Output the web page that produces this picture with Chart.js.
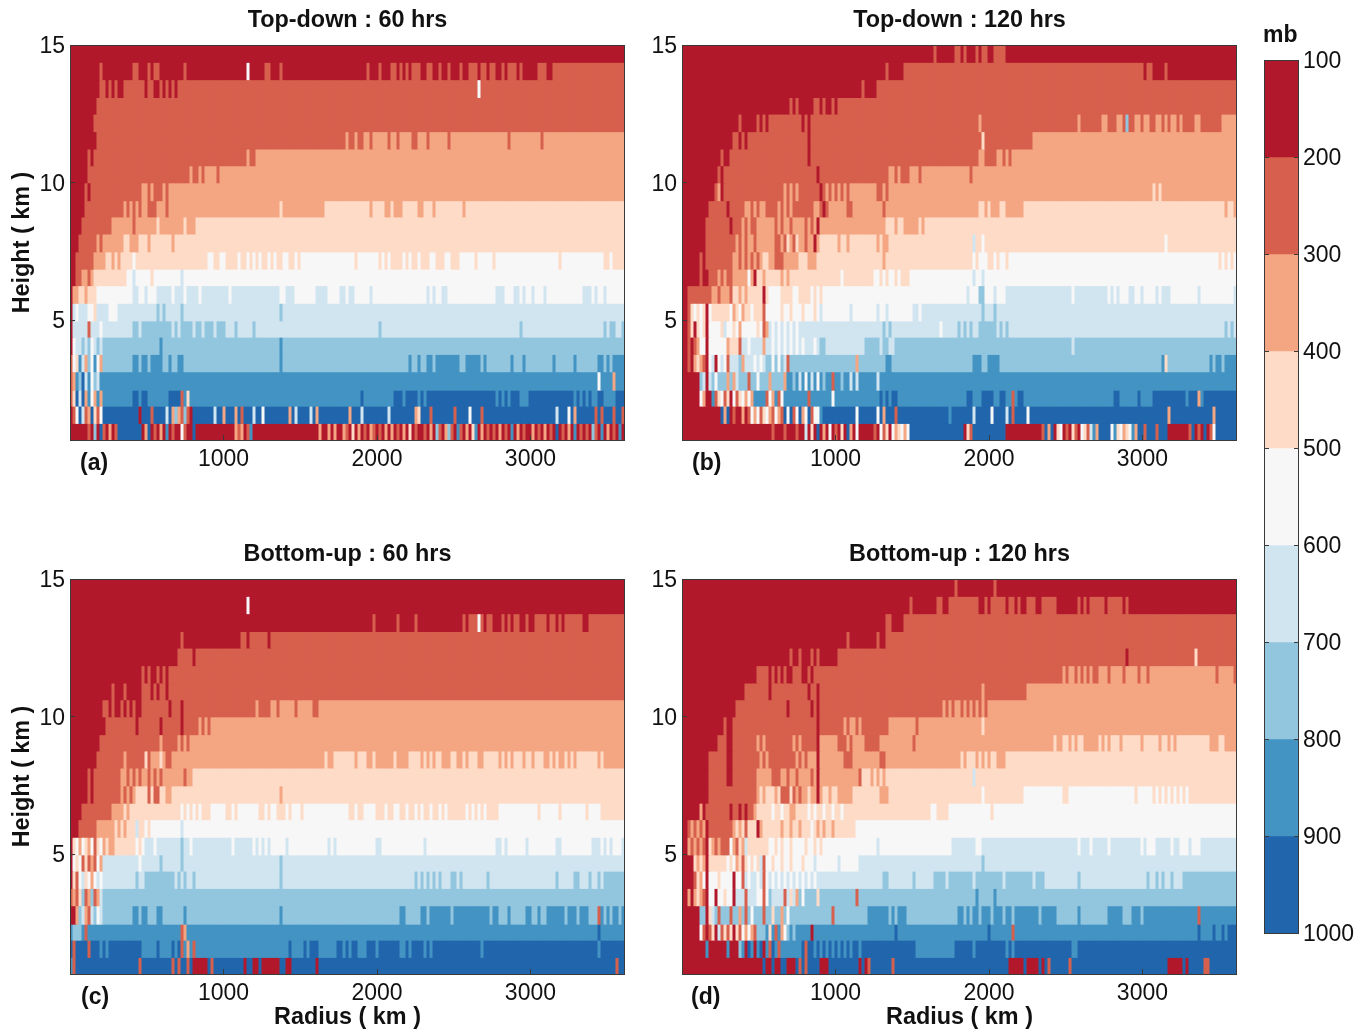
<!DOCTYPE html>
<html>
<head>
<meta charset="utf-8">
<title>Pressure by height and radius</title>
<script src="https://cdn.jsdelivr.net/npm/chart.js@4"></script>
<style>
  html, body { margin: 0; padding: 0; background: #fff; }
  body { position: relative; width: 1366px; height: 1032px; overflow: hidden; font-family: "Liberation Sans", Arial, sans-serif; }
  .slot { position: absolute; }
  .tag { position: absolute; font: bold 23px "Liberation Sans", Arial, sans-serif; line-height: 26px; color: #111; }
</style>
</head>
<body>
<div class="slot" style="left:0;top:0;width:640px;height:498px"><canvas id="panelA"></canvas></div>
<div class="slot" style="left:612px;top:0;width:640px;height:498px"><canvas id="panelB"></canvas></div>
<div class="slot" style="left:0;top:534px;width:640px;height:498px"><canvas id="panelC"></canvas></div>
<div class="slot" style="left:612px;top:534px;width:640px;height:498px"><canvas id="panelD"></canvas></div>
<div class="slot" style="left:1240px;top:0;width:126px;height:1032px"><canvas id="colorBar"></canvas></div>
<div class="tag" style="left:80px;top:449px">(a)</div>
<div class="tag" style="left:692px;top:449px">(b)</div>
<div class="tag" style="left:81px;top:983px">(c)</div>
<div class="tag" style="left:691px;top:983px">(d)</div>
<div class="tag" style="left:1263px;top:21px">mb</div>
<script>
// Pressure band colours, index 1-9 = 100-200 mb ... 900-1000 mb
const bandColors = ['', '#b2182b', '#d6604d', '#f4a582', '#fddbc7', '#f7f7f7', '#d1e5f0', '#92c5de', '#4393c3', '#2166ac'];
const pressureTicks = [100, 200, 300, 400, 500, 600, 700, 800, 900, 1000];
const heightTicks = [5, 10, 15];
const radiusTicks = [1000, 2000, 3000];
const RADIUS_MAX = 3616;
const HEIGHT_MIN = 0.636;
const COLS = 185;

// Edges of the height rows (km), top to bottom
const rowEdges = [15, 14.37, 13.74, 13.09, 12.49, 11.85, 11.22, 10.61, 9.99, 9.34, 8.75, 8.13, 7.48, 6.85, 6.25, 5.61, 4.97, 4.38, 3.75, 3.12, 2.45, 1.87, 1.24, 0.636];

// Each row, top to bottom: base band, then "column:band" or "from-to:band"
const topDown60 = [
  '1',
  '1 10:2 21-22:2 26:2 28-29:2 38:2 59:5 65-66:2 70:2 99:2 103:2 107-108:2 110:2 112:2 114:2 115-116:2 119-120:2 123:2 126:2 130:2 133:2 134-135:2 137-138:2 140-141:2 144:2 146-148:2 150:2 156-158:2 161-163:2 164-184:2',
  '2 0-9:1 12:1 14:1 16-17:1 25:1 28-29:1 31:1 33:1 35:1 136:5',
  '2 0-8:1',
  '2 0-7:1',
  '3 0-8:1 9-91:2 93-94:2 96-97:2 100:2 106:2 109:2 114-115:2 119:2 126:2 146:2 157:2',
  '3 0-5:1 6:2 7:1 8-58:2 60-61:2',
  '3 0-5:1 6-39:2 41-42:2 44:2 49:2',
  '3 0-4:1 5:2 6:1 7:2 8-23:2 26:2 28-30:2 32:2',
  '3 0-4:1 5-17:2 19:2 21:2 23:2 26-28:2 32:2 70:4 85-184:4 100:3 105-106:3 108-110:3 116:3 117:3 121:3 131:3',
  '4 0-3:1 4-13:2 14-41:3 21:2 29:4 38:4',
  '4 0-2:1 3-8:2 9:3 10:2 11-17:3 20-22:3 26:3 34:3',
  '4 0-1:1 2-7:2 8-11:3 14:3 16:3 21:5 46-47:5 50-51:5 56:5 59:5 61:5 63:5 66:5 68:5 71-72:5 75:5 77-184:5 95:4 103:4 105:4 107-108:4 109-110:4 112:4 114:4 115:4 117-118:4 119:4 122-124:4 127:4 128-129:4 135:4 141:4 163:4 178:4 179:4 181-184:4',
  '5 0-1:1 2-3:2 4-5:3 6:2 7:3 8-18:4 21:6 27:4 37:6',
  '5 0:1 1-2:3 3-4:4 5:3 6:4 7-8:4 21-22:6 25:6 29-33:6 35-37:6 39-42:6 44-52:6 54-69:6 72-74:6 82-85:6 90:6 91:6 93-94:6 100:6 119:6 121:6 124-125:6 142-143:6 144:6 148-149:6 151:6 154:6 158:6 171-173:6 175:6 178:6',
  '6 0:1 2:5 6-7:5 8:4 13-15:5 29:7 31:7 37:7 70:7',
  '6 0:1 6:2 10:5 21:7 22:7 24-33:7 35:7 37-40:7 42-43:7 45-47:7 49-51:7 55:7 61:7 103:7 150:7 178:7 180:7 181:7 184:7',
  '7 0:1 1:5 2-3:6 5:6 7:5 8:6 10:6 30:8 70:8',
  '7 0:2 1:5 2:4 3:8 4:6 5:3 6:7 7:5 8:8 9:5 10:3 21-22:8 24-25:8 27-30:8 33:8 36-37:8 70:8 113:8 116:8 119:8 120:8 122-129:8 132-135:8 136:8 138:8 147:8 151:8 161:8 168:8 176-177:8 179:8 181-184:8',
  '8 0:2 1:3 2:8 3:7 4:9 5:6 6:8 7:5 8:7 9:6 10:8 176:5 181:3',
  '8 0:2 1:4 2:9 3:6 4:9 5:3 6:8 7:5 8:3 9:8 10:3 21-22:9 24-25:9 33-36:9 37:2 39:4 97:9 108-110:9 112-115:9 117:9 119-131:9 132-141:9 143:9 145:9 147-149:9 153-155:9 156-167:9 169:9 171:9 173:9 176-177:9 182-184:9',
  '9 0:1 1:2 2:5 3:9 4:6 5:2 6:3 7:9 8:4 9:2 10:5 23:1 27:2 32:6 34:3 35:7 36:3 37:2 38:7 39:2 40:1 48:6 51:3 55:3 57:2 61:6 64:5 73:3 75:6 80:6 82:3 93:3 97:6 106:6 115:3 116:4 120:2 128:2 133:5 137:2 162:6 166:5 168:3 175:2 177:2 181:2 184:2',
  '1 6:2 8:7 10:9 11:2 13:3 15:2 16-23:9 25:3 26:9 28:2 30:3 32:8 34:2 37:5 38:2 41:9 55:3 56:2 57:3 59:2 60:8 83:3 86:3 88:3 91:3 92:2 94:4 96:3 98:2 100:3 101:2 103:2 105:3 107:3 109:2 111:3 113:4 115:2 118:2 120:3 122:7 123:2 125:3 126:7 127:2 129:8 130:2 132:3 134:4 135:8 137:3 139:2 141:2 143:3 145:2 147:8 149:3 151:2 154:3 156:2 158:3 160:2 162:9 164:2 166:3 168:8 170:2 172:2 174:7 175:2 177:8 179:3 181:2 183:8'
];

const topDown120 = [
  '1 84:2 91-92:2 94:2 98:2 100:2 101:2 104-105:2 106-107:2',
  '2 0-73:1 68:2 154:1 157-184:1 161:2',
  '2 0-65:1 60:2 65:2',
  '2 0-51:1 36:2 38:2 44-45:2 47:2 50:2',
  '2 0-24:1 19:2 26:1 28:1 40:1 42:1 99:3 132:3 140-141:3 145-146:3 148:7 151-152:3 154-155:3 158-159:3 161:3 163-164:3 166:3 171-172:3 180-184:3',
  '3 0-21:1 17-18:2 20:2 22-116:2 42:1 100:4',
  '3 0-15:1 13:2 16-98:2 42:1 101-103:2 104:2 107:2 109:2',
  '3 0-11:1 12:2 13:1 14-15:2 16-68:2 45:1 71:2 73-75:2 79:2 96:2',
  '3 0-10:1 11:2 13:1 14:2 15-33:2 35:2 37:2 39-47:2 46:1 49:2 51:2 53:2 55:2 65-66:2 68:2 157:4 159:4',
  '3 0-8:1 9-20:2 15:1 23:2 25:2 28-31:2 33:2 35:2 37-43:2 46:2 47:1 48:2 55-56:2 67:2 99-100:4 102:4 106-107:4 114-184:4 181:3 184:3',
  '4 0-7:1 8-67:3 8-15:2 16:1 17-19:2 21:2 23-24:2 31:2 33:2 36:2 41:2 43:2 45:1 71:3 74-78:3 80:3',
  '4 0-7:1 8-17:2 18:3 19:2 20:3 21:2 22-23:3 24:2 25-30:3 31-32:2 33:3 34:2 36:3 37:2 39-43:3 41:2 44:1 45:3 52:3 55:3 65:3 67-68:3 97:6 100:5 161:5',
  '5 0-5:1 6:2 7:1 8-16:2 17-26:3 19:2 21:2 23:2 25:2 27-28:4 29-30:3 31-33:2 34-38:3 39-41:4 42-44:3 45-108:4 67:3 97:5 99:5 100-101:5 104:5 106-107:5 179:4 181:4 183:4',
  '5 0-5:1 6:2 7-8:1 9-16:2 12:3 14:3 17-21:3 23:3 24:1 25-75:4 27:3 33:3 35:3 53:5 64-65:5 67:5 69-70:5 72:5 97:6 100:6',
  '5 0-1:1 2-9:2 10-11:3 12:2 13-15:3 16:2 17-28:4 19:3 21:3 27:1 33-36:4 39-42:4 44:4 46:4 95:6 99-100:7 104:6 108:6 109-141:6 130:5 143:6 145:6 149-150:6 153:6 158:6 160-162:6 172:6 184:6',
  '6 0-1:1 2:2 3:4 4:5 5:4 6:5 7:4 8:1 9:5 10-15:4 16:5 17:3 18:4 19:5 20:3 21-22:4 23:5 24-26:4 27:2 28-79:5 33:4 36:4 40:4 44:4 46:6 56:6 65:6 68:6 77-78:6 100:7 104:7',
  '6 0-1:1 2:2 3:4 4:1 5:4 6:5 7:4 8:1 9-12:5 13:4 15-16:5 17:4 18:5 19:3 20-24:5 25:4 26:5 27:2 28:3 30:5 32:5 34:5 36:5 38:5 67:7 69:7 86:5 92:7 94:7 96:7 99:7 100-104:7 106:7 108:7 181:7 183:7',
  '7 0-1:1 2:2 3:1 4:2 5:3 6:5 7:5 8:1 9-14:5 15:3 16-18:4 19:2 20-26:6 22:5 27:3 28-45:6 30:5 32:5 34:5 36:5 38:5 40:5 44:5 46:7 48-60:6 66:6 69:6 70:6 130:6',
  '7 0-1:1 2:2 3:1 4:3 5:4 6:3 7:2 8:1 9:5 10:6 11:1 12:5 13:6 14:5 15:2 16:6 17-18:6 19:7 20:3 21-27:6 24:5 26:5 30:5 32:5 34:6 35:2 58:3 68:8 69:8 97:8 98:8 99:8 102-105:8 160:8 161:4 176:8 178:8 179:8 181-184:8',
  '8 0-5:1 6:7 7:6 8:1 9:6 10:7 11:5 12-14:7 15:3 16:7 17:3 18:6 19-21:7 22:2 23-33:7 25:5 29:3 34:3 37:7 39:6 41:5 43:6 45:5 47:7 50:2 53:7 56:6 58:6 65:6',
  '8 0-5:1 6:5 7:3 8-9:1 11:2 12:4 13:5 14:2 15:4 16:1 17:5 18:2 19:4 20:5 21:3 22:5 23:3 28:2 29:5 30:3 32:2 33:5 42:2 50:5 66:9 68:9 70:9 71:9 95-96:9 100:9 101-103:9 106-107:9 110:2 112-113:9 144-145:9 152:9 157-162:9 163-167:9 169-171:9 172:3 174-184:9',
  '9 0-12:1 14:3 16:1 17:2 18-19:1 20:3 21:1 22:2 23:5 24:3 25:5 26:2 27:4 28:5 29:3 30:2 31:5 32:3 33:2 34:9 35:5 36:9 37:2 38:5 39:9 40:3 41:5 42:9 43:2 44-45:5 46:8 58:5 65:5 67:3 71:2 89:8 97:6 103:5 108:6 110:2 115:5 162:3 177:3',
  '1 30:2 34:2 38:2 41:6 43:4 45:9 47:3 49:5 51:2 53:4 55:9 56:3 58:5 64:2 66:5 67:2 68:4 70:5 71:3 72:4 73:5 74:3 75:5 76-161:9 94:1 95:4 96:2 108-120:1 120:2 122:3 124:1 125:4 126:5 127:1 128:2 129:1 130:4 131:2 132:1 133:5 134:4 135:2 136:6 137:8 138:3 143:5 144:8 145:4 146:5 147:3 148:4 149:5 150:8 151:3 154:2 158:2 168:1 169:2 170:9 171:1 172:2 173:1 174:9 175:1 176:2 177:5 178-184:9'
];

const bottomUp60 = [
  '1',
  '1 59:5',
  '1 101:2 109:2 115:2 131:2 133:2 134-135:2 136:5 137:2 139:2 140:2 144:2 146:2 148:2 149:2 152:2 155:2 156:2 157:2 158:2 160:2 161:2 163:2 165-170:2 173-184:2',
  '2 0-56:1 37:2 59:1 66:1',
  '2 0-35:1 41:1',
  '2 0-32:1 24:2 26:2 29:2 31:2',
  '2 0-23:1 14:2 18:2 27:1 29:1 32:1',
  '3 0-10:1 11-12:2 13:1 14:2 15-23:1 17:2 19:2 21:2 24-66:2 62:3 33:1 37:1 69:2 75:2 81-82:2',
  '3 0-11:1 12-42:2 22:1 30:1 37:1 44:2 46:2',
  '3 0-9:1 10-35:2 30:3 37:2 39:2',
  '3 0-8:1 9-33:2 18:3 25:4 27:3 28:3 29:3 30:4 31:3 85:4 88-94:4 96-98:4 101:4 108:4 113-115:4 116:4 118:4 120:4 122:4 123:4 127-128:4 131:4 133-135:4 138-141:4 142:4 144:4 146:4 148-150:4 152-153:4 155-157:4 160:4 162:4 165:4 167:4 169:4 170-175:4 177:4',
  '4 0-8:1 6:2 8:2 9-16:2 17-24:3 19:2 21:2 23:2 25-40:3 26:2 28:2 30:2 38:2',
  '4 0-5:1 6:2 7:1 8:2 9-16:2 17-21:3 18:2 20:2 26:2 28-29:2 32-33:3 70:3',
  '5 0-3:1 4-13:2 14-17:3 18:4 19:3 20-46:4 37:5 39:5 41:5 43:5 52-53:4 55:4 63-64:4 66:4 69-71:4 73:4 77:4 93-94:4 96-97:4 102-104:4 106-107:4 110-111:4 113-114:4 116:4 118-119:4 121-122:4 124:4 126-131:4 133:4 135:4 137:4 139-142:4 156:4 163:4 172:4 177-178:4 179-184:4',
  '5 0-2:1 3-8:2 9-14:3 15:4 16:3 17:4 18:3 19-21:4 22:6 23-24:4 26:4 37:6',
  '5 0:1 1:4 2:5 3:3 4:5 5:4 6:3 7:5 8:2 9:4 10:5 11:3 12:4 13-14:3 15-21:4 22:5 23:4 24:5 25-66:6 28:5 37:7 40:5 54:5 61:5 63:5 65:5 72:6 86:6 88:6 102-103:6 118:6 142-143:6 145:6 152:6 162-163:6 174-176:6 178:6 180:6 184:6',
  '6 0:1 1:5 2:4 3:5 4:2 5:4 6:2 7:3 8:2 9:5 10:3 23:5 30:7 37:7 70:7',
  '6 0:1 1:4 2:2 3:5 4:6 5:4 6:5 7:3 8:5 9:6 10:5 22:7 25-33:7 34:7 36:7 38:7 41:7 70:7 115:7 117:7 119:7 121:7 123:7 127-128:7 130:7 139:7 162:7 168-169:7 173:7 176:7 178-184:7',
  '7 0:2 1:3 2:2 3:4 5:2 6:3 8:2 9:3 10:6',
  '7 0-1:1 2:3 4:6 5:3 6:2 7:6 9:5 10:6 21:8 22:8 24:8 25:8 29-30:8 38:8 70:8 110-111:8 117-118:8 120-121:8 122-126:8 128-129:8 130-138:8 139:8 141-142:8 146:8 152-153:8 156:8 159-164:8 166-168:8 170-171:8 172:8 176:2 177:8 179:8 181-182:8 184:8',
  '8 1-3:7 5:2 37:2 38:3 176:9',
  '8 0-23:9 1:2 6:2 10:8 12:8 29:9 34:9 36:9 37:2 39:3 41:2 73:9 78:9 80-82:9 89-95:9 91:8 93:8 99-184:9 102:8 110:8 111:8 113:8 118:8 120:8 137:8 176:8',
  '9 0:8 1:2 23:2 34:2 36:2 39:2 41-45:1 47:2 58:1 61-62:1 64-69:1 72-73:1 82:1 182:2'
];

const bottomUp120 = [
  '1 91:2 104:2',
  '2 0-88:1 76:2 85-86:2 99-100:1 102:1 108:1 111:1 113-114:1 118-119:1 125-128:1 129-131:1 133:1 135:1 141:1 147:1 149:1 150-184:1',
  '2 0-73:1 68-69:2',
  '2 0-67:1 55:2 65:2',
  '2 0-51:1 36:2 39:2 43:2 45:2 148:1 171:4',
  '3 0-24:1 25-138:2 29:1 31:1 33:1 35-36:1 40-41:1 43:1 127:3 129-130:3 132:3 134:3 136:3 142:2 147:2 152:2 155:2 178:2 184:2',
  '3 0-20:1 21-114:2 29:1 42:1 45:1 100:3',
  '3 0-17:1 18-90:2 35:1 43:1 45:1 87:3 89:3 93:2 95:2 97:2 99:2 101:2',
  '3 0-16:1 14:2 17-68:2 54:3 56:3 57:3 59:3 45:1 78:2 100:4',
  '3 0-11:1 12-14:2 15-16:1 17-44:2 25:3 27:3 37:3 39:3 45:1 52-54:2 56:2 61-65:2 77:2 124:4 127-128:4 130:4 132-133:4 139:4 141:4 143-145:4 147-149:4 150-152:4 154-158:4 160-161:4 163:4 165-167:4 168-175:4 179-180:4',
  '3 0-8:1 9-15:2 15-16:1 17-37:2 26:3 28:3 39:2 41:2 45:1 54-56:2 66-67:2 93:4 95-96:4 97:4 99:4 101:4 103:4 104:4 108-184:4',
  '4 0-8:1 9-14:2 15-16:1 17-24:2 25-29:3 30-31:2 32-42:3 32:2 35:2 38:2 43:2 44:3 45:1 46-58:3 59:2 61:4 63:3 65:3 67:3 97:6',
  '4 0-8:1 9-24:2 25:3 27:3 31:3 33-35:2 37:2 38:3 39:2 40-41:3 43:3 44:3 45:1 46:3 49:3 52:3 53-56:3 66-68:3 100:5 114-126:5 129-150:5 152-156:5 158:5 160:5 162:5 164:5 166:5 168:5',
  '5 0-5:1 6:3 7:1 8-16:2 16:1 17-23:2 19:1 21:1 24:3 25-82:4 30:5 33:5 36:3 37:3 42:5 44:5 47:5 50:5 53:5 85-88:4 103:4',
  '5 0-1:1 2:2 3:3 4:2 5:3 6:2 7:3 8:1 9-16:2 17:3 18:4 19:3 20:4 21:2 22-24:4 25:1 26:3 27-57:4 33:3 36:3 39:3 43:5 45:3 47:3 50:3',
  '6 0-1:1 2:3 3:2 4:3 5:2 6:3 7:2 8:1 9:4 10:3 11:2 12:3 13-15:2 16:5 17:3 18:2 19:4 20:3 22-28:4 29-49:5 31:4 33:4 36:4 41:4 44:4 46:4 47-89:5 65:6 98-99:5 132:5 136:5 142:5 153:5 155:5 156:5 157:5 163:5 166-168:5 170-172:5',
  '6 0-3:1 4:4 5:3 6:4 7:3 8:1 9-16:4 15:5 17:5 18:3 19:4 20:2 21:4 22:5 23:4 24:5 25:4 27:2 28-58:5 30:4 33:4 36:4 40:4 44:6 52:6 100:7',
  '6 0-3:1 4:2 5:4 6:3 7:5 8:1 9-15:5 12:4 16:5 17:1 18-19:5 20:2 22:5 25:5 27:2 28:5 30:5 32:5 34:5 36:5 38:5 40:5 42:5 44:5 67-68:7 77:7 84-87:7 89-95:7 93-96:7 98-120:7 107:6 117:6 132:7 155:7 158:7 160:7 163:7 167-184:7',
  '7 0-1:1 2:3 3:1 4:3 5:4 6:3 7:2 8:1 9-10:5 11:1 12-16:5 14:4 17:1 18-24:6 21:2 25-26:5 27:2 28:5 30-33:6 34:2 35:6 36:4 37:6 38:3 40:5 45:4 58:2 98:8 104:8',
  '7 0-5:1 8:1 9:4 10:6 12:2 16:2 19:3 21:2 23:5 27:2 30:4 33:3 35:5 50:2 62-65:8 66-68:8 70:8 72-74:8 92-184:8 94:7 96:7 99:7 103:7 107:7 110:7 119:7 125-131:7 133:7 134-141:7 147-149:7 153:7 172:2',
  '8 0-5:1 6:5 7:2 8:1 9:2 10:4 11:1 12:6 13:2 14:4 15:2 16:4 17:1 18:4 19:2 20:5 21:3 22:5 23:3 24:2 25-27:7 29:4 31:2 33:3 34:5 35:7 37:7 43:1 71:9 102:9 110:2 172:9 177:9 180:9 182-184:9',
  '9 0-19:1 8:8 15:8 19:7 20:8 21:1 23:8 24:1 25:8 27:1 28:8 29:2 31:8 32:2 33-39:8 41:2 44:8 46:8 48:8 50:8 52:8 54:8 56:8 59:8 78-90:8 97:8 108:8 110:8 130-131:8',
  '9 0-26:1 28:1 29:1 31-32:1 35-37:1 39:2 41:2 46-48:1 59:1 61:1 62:2 70:2 109-113:1 115-118:1 120:1 122:2 129:2 162:1 163-166:1 168:1 174-175:2'
];

// Turn a row description into one band number per radius column
function expandRow(text) {
  const parts = text.split(' ');
  const row = new Array(COLS).fill(+parts[0]);
  parts.slice(1).forEach(part => {
    const [span, band] = part.split(':');
    const [from, to = from] = span.split('-');
    for (let i = +from; i <= +to; i++) row[i] = +band;
  });
  return row;
}

const radiusCenters = [];
for (let i = 0; i < COLS; i++) radiusCenters.push((i + 0.5) * RADIUS_MAX / COLS);

// Dark frame and short inward tick marks
const framePlugin = {
  id: 'frame',
  afterDatasetsDraw(chart) {
    const { ctx, chartArea: a, scales } = chart;
    ctx.save();
    ctx.strokeStyle = '#3a3a3a';
    ctx.lineWidth = 1;
    ctx.strokeRect(a.left + 0.5, a.top + 0.5, a.right - a.left - 1, a.bottom - a.top);
    ctx.beginPath();
    scales.y.ticks.forEach(t => {
      const y = Math.round(scales.y.getPixelForValue(t.value)) + 0.5;
      ctx.moveTo(a.left, y);
      ctx.lineTo(a.left + 5, y);
      if (chart.canvas.id === 'colorBar') {
        ctx.moveTo(a.right, y);
        ctx.lineTo(a.right - 5, y);
      }
    });
    if (scales.x.options.display) {
      scales.x.ticks.forEach(t => {
        const x = Math.round(scales.x.getPixelForValue(t.value)) + 0.5;
        ctx.moveTo(x, a.bottom);
        ctx.lineTo(x, a.bottom - 5);
      });
    }
    ctx.stroke();
    ctx.restore();
  }
};

function drawPanel(canvasId, titleText, rows, showRadius) {
  const grid = rows.map(expandRow);
  const datasets = grid.map((row, r) => ({
    label: 'row ' + r,
    data: radiusCenters.map(x => ({ x: x, y: [rowEdges[r + 1], rowEdges[r]] })),
    backgroundColor: row.map(band => bandColors[band]),
    borderWidth: 0,
    inflateAmount: 0.5,
    barPercentage: 1,
    categoryPercentage: 1,
    grouped: false
  }));

  new Chart(document.getElementById(canvasId), {
    type: 'bar',
    data: { datasets: datasets },
    plugins: [framePlugin],
    options: {
      responsive: true,
      maintainAspectRatio: false,
      animation: false,
      layout: { padding: { right: 15 } },
      plugins: {
        legend: { display: false },
        tooltip: { enabled: false },
        title: {
          display: true,
          text: titleText,
          fullSize: false,
          color: '#111',
          font: { family: 'Liberation Sans', size: 23.4, weight: 'bold', lineHeight: 1.2 },
          padding: { top: 7, bottom: 9.9 }
        }
      },
      scales: {
        x: {
          type: 'linear',
          offset: false,
          min: 0,
          max: RADIUS_MAX,
          grid: { display: false, drawTicks: false, offset: false },
          border: { display: false },
          afterBuildTicks: axis => { axis.ticks = radiusTicks.map(v => ({ value: v })); },
          afterFit: axis => { axis.height = 58; },
          ticks: {
            color: '#111',
            padding: 6,
            maxRotation: 0,
            autoSkip: false,
            font: { family: 'Liberation Sans', size: 23 },
            callback: v => String(v)
          },
          title: {
            display: showRadius,
            text: 'Radius ( km )',
            color: '#111',
            font: { family: 'Liberation Sans', size: 23.4, weight: 'bold', lineHeight: 1.2 },
            padding: { top: 0, bottom: 0 }
          }
        },
        y: {
          type: 'linear',
          min: HEIGHT_MIN,
          max: 15,
          grid: { display: false, drawTicks: false },
          border: { display: false },
          afterBuildTicks: axis => { axis.ticks = heightTicks.map(v => ({ value: v })); },
          afterFit: axis => { axis.width = 70; },
          ticks: {
            color: '#111',
            padding: 5,
            labelOffset: 2,
            font: { family: 'Liberation Sans', size: 23 },
            callback: v => String(v)
          },
          title: {
            display: true,
            text: canvasId === 'panelA' || canvasId === 'panelC' ? 'Height ( km )' : '',
            color: '#111',
            font: { family: 'Liberation Sans', size: 23.4, weight: 'bold', lineHeight: 1.2 },
            padding: { top: 9, bottom: 0 }
          }
        }
      }
    }
  });
}

drawPanel('panelA', 'Top-down : 60 hrs', topDown60, false);
drawPanel('panelB', 'Top-down : 120 hrs', topDown120, false);
drawPanel('panelC', 'Bottom-up : 60 hrs', bottomUp60, true);
drawPanel('panelD', 'Bottom-up : 120 hrs', bottomUp120, true);

// Colour bar: one floating bar per pressure band
new Chart(document.getElementById('colorBar'), {
  type: 'bar',
  data: {
    labels: ['mb'],
    datasets: pressureTicks.slice(0, -1).map((p, i) => ({
      label: p + '-' + pressureTicks[i + 1],
      data: [[p, pressureTicks[i + 1]]],
      backgroundColor: bandColors[i + 1],
      borderWidth: 0,
      barPercentage: 1,
      categoryPercentage: 1,
      grouped: false
    }))
  },
  plugins: [framePlugin],
  options: {
    responsive: true,
    maintainAspectRatio: false,
    animation: false,
    layout: { padding: { top: 60, bottom: 99, left: 24 } },
    plugins: { legend: { display: false }, tooltip: { enabled: false } },
    scales: {
      x: { display: false },
      y: {
        position: 'right',
        reverse: true,
        min: 100,
        max: 1000,
        grid: { display: false, drawTicks: false },
        border: { display: false },
        afterBuildTicks: axis => { axis.ticks = pressureTicks.map(v => ({ value: v })); },
        afterFit: axis => { axis.width = 67; },
        ticks: {
          color: '#111',
          padding: 4,
          labelOffset: 2,
          autoSkip: false,
          font: { family: 'Liberation Sans', size: 23 },
          callback: v => String(v)
        }
      }
    }
  }
});
</script>
</body>
</html>
